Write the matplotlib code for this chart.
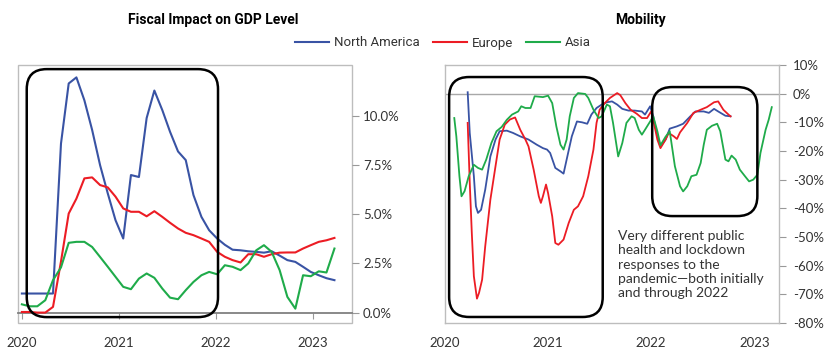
import numpy as np
import pandas as pd
import matplotlib
matplotlib.use("Agg")
import matplotlib.pyplot as plt
from matplotlib.patches import FancyBboxPatch, Rectangle
from matplotlib.lines import Line2D

plt.rcParams['font.family'] = ['Lato', 'DejaVu Sans']

# ---- data: fiscal impact on GDP level (%), roughly monthly
fiscal_dates = pd.date_range('2020-01-01', '2023-03-22', periods=41)
fiscal_na = [0.97, 0.97, 0.97, 0.97, 0.97, 8.6, 11.66, 11.97, 10.8, 9.3,
             7.5, 6.06, 4.7, 3.77, 7.0, 6.9, 9.9, 11.3, 10.3, 9.2,
             8.2, 7.76, 5.98, 4.87, 4.19, 3.77, 3.45, 3.2, 3.17, 3.12,
             3.09, 3.05, 3.12, 2.9, 2.67, 2.58, 2.33, 2.07, 1.9, 1.75, 1.65]
fiscal_eu = [0.03, 0.03, 0.0, 0.0, 0.29, 2.6, 5.04, 5.8, 6.83, 6.88,
             6.49, 6.37, 5.9, 5.3, 5.13, 5.13, 4.9, 5.16, 4.87, 4.57,
             4.28, 4.06, 3.94, 3.77, 3.6, 3.09, 2.84, 2.67, 2.55, 2.97,
             2.97, 2.84, 2.97, 3.05, 3.06, 3.06, 3.26, 3.43, 3.6, 3.68, 3.8]
fiscal_asia = [0.42, 0.32, 0.32, 0.63, 1.65, 2.3, 3.55, 3.6, 3.6, 3.34,
               2.83, 2.33, 1.82, 1.31, 1.19, 1.73, 1.99, 1.77, 1.22, 0.76,
               0.68, 1.14, 1.56, 1.9, 2.07, 1.95, 2.41, 2.33, 2.16, 2.5,
               3.17, 3.43, 3.09, 2.16, 0.8, 0.2, 1.9, 1.85, 2.1, 2.04, 3.26]

# ---- data: mobility (% vs baseline), time in decimal years
mob_na_t = [2020.22, 2020.24, 2020.28, 2020.30, 2020.32, 2020.35, 2020.39, 2020.44, 2020.49, 2020.53,
            2020.60, 2020.66, 2020.73, 2020.81, 2020.89, 2020.95, 2020.99, 2021.02, 2021.07, 2021.12,
            2021.15, 2021.18, 2021.23, 2021.28, 2021.33, 2021.38, 2021.42, 2021.47, 2021.52, 2021.57,
            2021.62, 2021.67, 2021.72, 2021.78, 2021.84, 2021.91, 2021.94, 2021.99, 2022.02, 2022.06,
            2022.09, 2022.14, 2022.18, 2022.25, 2022.31, 2022.38, 2022.43, 2022.51, 2022.56, 2022.61,
            2022.65, 2022.72, 2022.77]
mob_na = [0.5, -13.7, -28.8, -39.3, -41.6, -40.5, -33.5, -21.9, -16.0, -13.1,
          -12.9, -13.7, -14.9, -16.0, -17.8, -19.0, -19.5, -20.7, -25.9, -27.1,
          -27.9, -23.0, -14.9, -9.7, -10.0, -10.5, -7.3, -5.0, -3.8, -3.0,
          -2.7, -3.8, -5.3, -5.9, -5.9, -6.2, -7.3, -4.4, -7.9, -14.9,
          -18.4, -16.0, -12.2, -11.4, -10.5, -7.9, -6.2, -6.2, -6.7, -5.3,
          -6.2, -7.7, -7.9]

mob_eu_t = [2020.22, 2020.24, 2020.26, 2020.28, 2020.31, 2020.33, 2020.36, 2020.39, 2020.44, 2020.49,
            2020.53, 2020.58, 2020.63, 2020.68, 2020.73, 2020.78, 2020.81, 2020.86, 2020.91, 2020.93,
            2020.95, 2020.98, 2021.00, 2021.04, 2021.07, 2021.10, 2021.15, 2021.20, 2021.25, 2021.29,
            2021.34, 2021.39, 2021.44, 2021.47, 2021.50, 2021.55, 2021.60, 2021.67, 2021.70, 2021.75,
            2021.80, 2021.86, 2021.91, 2021.96, 2022.00, 2022.02, 2022.06, 2022.09, 2022.14, 2022.17,
            2022.22, 2022.25, 2022.28, 2022.35, 2022.41, 2022.48, 2022.54, 2022.61, 2022.65, 2022.70,
            2022.75, 2022.77]
mob_eu = [-10.2, -31.0, -48.6, -63.7, -71.5, -69.5, -64.9, -53.3, -37.0, -25.3,
          -16.0, -10.8, -9.0, -8.3, -12.6, -16.0, -18.4, -26.5, -35.8, -38.1,
          -35.8, -31.7, -34.7, -42.8, -52.1, -52.7, -50.9, -45.1, -40.5, -39.3,
          -35.8, -28.8, -19.5, -10.2, -5.6, -3.3, -1.5, 0.2, -0.5, -3.3,
          -5.6, -7.0, -8.5, -8.5, -6.2, -9.1, -16.0, -19.0, -16.0, -13.7,
          -14.9, -15.8, -13.5, -10.2, -6.7, -5.6, -4.7, -3.0, -2.7, -5.6,
          -7.3, -7.9]

mob_asia_t = [2020.09, 2020.11, 2020.14, 2020.16, 2020.19, 2020.23, 2020.28, 2020.32, 2020.36, 2020.40,
              2020.45, 2020.50, 2020.55, 2020.60, 2020.65, 2020.71, 2020.74, 2020.78, 2020.83, 2020.87,
              2020.95, 2021.00, 2021.04, 2021.08, 2021.12, 2021.15, 2021.18, 2021.21, 2021.25, 2021.29,
              2021.36, 2021.39, 2021.44, 2021.49, 2021.52, 2021.57, 2021.60, 2021.63, 2021.67, 2021.68,
              2021.72, 2021.76, 2021.81, 2021.84, 2021.88, 2021.91, 2021.94, 2021.99, 2022.02, 2022.06,
              2022.09, 2022.14, 2022.18, 2022.23, 2022.28, 2022.31, 2022.35, 2022.39, 2022.44, 2022.48,
              2022.51, 2022.54, 2022.59, 2022.64, 2022.67, 2022.72, 2022.75, 2022.78, 2022.82, 2022.86,
              2022.91, 2022.95, 2022.99, 2023.03, 2023.06, 2023.11, 2023.14, 2023.17]
mob_asia = [-8.5, -14.9, -28.8, -35.8, -34.0, -28.8, -24.8, -25.9, -26.5, -23.0,
            -17.2, -13.1, -11.6, -9.1, -7.3, -6.2, -4.4, -5.0, -5.0, -0.9,
            -1.2, -0.7, -3.3, -11.4, -17.8, -19.5, -16.0, -7.9, -1.5, 0.2,
            -0.1, -1.5, -5.6, -8.5, -7.9, -3.8, -4.4, -10.2, -19.5, -21.9,
            -17.2, -10.2, -7.9, -8.5, -12.6, -14.3, -12.6, -9.7, -7.9, -13.1,
            -18.0, -15.0, -13.1, -25.3, -32.3, -34.1, -32.3, -28.8, -28.3, -24.2,
            -17.8, -12.6, -11.2, -10.5, -13.1, -23.0, -23.6, -21.6, -23.0, -26.5,
            -28.8, -30.6, -30.0, -28.3, -20.7, -12.6, -9.1, -4.7]

series_names = ['North America', 'Europe', 'Asia']
colors = ['#3953a4', '#ec1c24', '#1fab4a']
years = [2020, 2021, 2022, 2023]
fiscal_ticks = [0, 2.5, 5, 7.5, 10]
mob_ticks = list(range(-80, 11, 10))

frame_col = '#bdbdbd'
text_col = '#333333'

fig = plt.figure(figsize=(8.4, 3.61), dpi=100)
axL = fig.add_axes([18/840, 38/361, 334/840, 258/361])
axR = fig.add_axes([445/840, 38/361, 334/840, 258/361])


def to_year(d):
    d = pd.DatetimeIndex(d)
    return d.year + (d.dayofyear - 1) / 365.0


def rounded_box(ax, x0, x1, y0, y1, r_px=20):
    (a0, b0), (a1, b1) = ax.transLimits.transform([(x0, y0), (x1, y1)])
    bb = ax.get_position()
    w = bb.width * fig.get_figwidth() * fig.dpi
    h = bb.height * fig.get_figheight() * fig.dpi
    p = FancyBboxPatch((a0, b0), a1 - a0, b1 - b0,
                       boxstyle="round,pad=0,rounding_size=%f" % (r_px / w),
                       mutation_aspect=w / h, transform=ax.transAxes,
                       fill=False, ec='black', lw=1.8, clip_on=False, zorder=5)
    ax.add_patch(p)


# ---- left: fiscal impact
tL = to_year(fiscal_dates)
for vals, c in zip([fiscal_na, fiscal_eu, fiscal_asia], colors):
    axL.plot(tL, vals, color=c, lw=1.5, zorder=3)
axL.set_xlim(2019.96, 2023.40)
axL.set_ylim(-0.53, 12.6)
axL.yaxis.tick_right()
axL.set_yticks(fiscal_ticks)
axL.set_yticklabels(['%.1f%%' % v for v in fiscal_ticks])
axL.set_xticks(years)
axL.set_xticklabels([str(y) for y in years])
for s in ['left', 'top', 'right']:
    axL.spines[s].set_visible(False)
axL.spines['bottom'].set_position(('data', 0))
axL.spines['bottom'].set_color('#808080')
axL.spines['bottom'].set_linewidth(1.3)
axL.add_patch(Rectangle((0, 0), 1, 1, transform=axL.transAxes, fill=False,
                        ec=frame_col, lw=1.0, clip_on=False, zorder=1))
axL.tick_params(axis='x', length=4.5, color='#999999', pad=13, labelsize=9.5, labelcolor=text_col)
axL.tick_params(axis='y', length=5, color='#999999', pad=3, labelsize=9.5, labelcolor=text_col)
rounded_box(axL, 2020.05, 2022.02, -0.23, 12.39)

# ---- right: mobility
for t, vals, c in zip([mob_na_t, mob_eu_t, mob_asia_t], [mob_na, mob_eu, mob_asia], colors):
    axR.plot(t, vals, color=c, lw=1.3, zorder=3)
axR.axhline(0, color='#a8a8a8', lw=1.0, zorder=1)
axR.set_xlim(2020.0, 2023.24)
axR.set_ylim(-80, 10)
axR.yaxis.tick_right()
axR.set_yticks(mob_ticks)
axR.set_yticklabels(['%d%%' % v for v in mob_ticks])
axR.set_xticks(years)
axR.set_xticklabels([str(y) for y in years])
for s in axR.spines.values():
    s.set_color(frame_col)
    s.set_linewidth(1.0)
axR.tick_params(axis='x', length=0, pad=10, labelsize=9.5, labelcolor=text_col)
axR.tick_params(axis='y', length=5, color='#999999', pad=5, labelsize=9.5, labelcolor=text_col)
rounded_box(axR, 2020.04, 2021.53, -77.9, 5.8)
rounded_box(axR, 2022.01, 2023.03, -42.7, 2.3)
axR.text(0.518, 0.36, 'Very different public\nhealth and lockdown\nresponses to the\n'
         'pandemic\u2014both initially\nand through 2022',
         transform=axR.transAxes, ha='left', va='top', fontsize=10, linespacing=1.22,
         color=text_col)

# ---- titles and legend
fig.text(213/840, 1 - 20/361, 'Fiscal Impact on GDP Level', ha='center', va='center',
         fontsize=10, fontweight='bold', family=['Roboto', 'DejaVu Sans'], color='black')
fig.text(641/840, 1 - 20/361, 'Mobility', ha='center', va='center',
         fontsize=10, fontweight='bold', family=['Roboto', 'DejaVu Sans'], color='black')
handles = [Line2D([], [], color=c, lw=1.5) for c in colors]
fig.legend(handles, series_names, loc='center', bbox_to_anchor=(443/840, 1 - 43/361),
           ncol=3, frameon=False, handlelength=2.6, handletextpad=0.35, columnspacing=1.0,
           prop={'family': ['Roboto', 'DejaVu Sans'], 'size': 9.5}, labelcolor=text_col)

fig.savefig('out.png', dpi=100)
